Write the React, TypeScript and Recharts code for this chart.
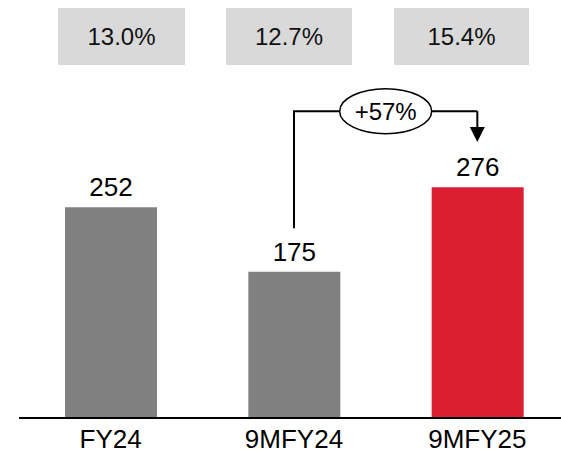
import React from 'react';
import { BarChart, Bar, XAxis, YAxis, Cell, LabelList, ReferenceLine } from 'recharts';

const categories = ['FY24', '9MFY24', '9MFY25'];
const values = [252, 175, 276];
const marginPcts = ['13.0%', '12.7%', '15.4%'];
const growthLabel = '+57%';
const barColors = ['#808080', '#808080', '#DA1F33'];

// annotation heights, in data units
const arrowStart = 227;
const arrowTop = 367;
const arrowTip = 330;

const data = categories.map((c, i) => ({ name: c, value: values[i] }));

const FONT = '"Liberation Sans", Arial, sans-serif';

const BOXES = [
  { left: 58, width: 127 },
  { left: 226, width: 126 },
  { left: 394, width: 135 },
];

const ElbowShape = (props: any) => {
  const { x1, y1, x2, y2 } = props;
  const mx = (x1 + x2) / 2;
  return (
    <g>
      <path d={`M${x1},${y1} V${y2} H${x2}`} fill="none" stroke="#000" strokeWidth={2} />
      <ellipse cx={mx} cy={y2} rx={46} ry={22.5} fill="#fff" stroke="#000" strokeWidth={1.5} />
      <text x={mx} y={y2} dy={8.5} textAnchor="middle" fontSize={24} fontFamily={FONT} fill="#000">
        {growthLabel}
      </text>
    </g>
  );
};

const ArrowShape = (props: any) => {
  const { x1, y1, y2 } = props;
  const h = 15;
  return (
    <g>
      <line x1={x1} y1={y1} x2={x1} y2={y2 - h + 1} stroke="#000" strokeWidth={2} />
      <path d={`M${x1 - 7.5},${y2 - h} L${x1 + 7.5},${y2 - h} L${x1},${y2} Z`} fill="#000" />
    </g>
  );
};

const Tick = (props: any) => {
  const { x, y, payload } = props;
  return (
    <text x={x} y={y} dy={22} textAnchor="middle" fontSize={26} fontFamily={FONT} fill="#000">
      {payload.value}
    </text>
  );
};

export default function App() {
  return (
    <div style={{ position: 'absolute', left: 0, top: 0, width: 561, height: 453, overflow: 'hidden', background: '#fff', fontFamily: FONT }}>
      <BarChart
        width={570}
        height={453}
        data={data}
        margin={{ top: 0, right: 1, bottom: 0, left: 19 }}
        style={{ fontFamily: FONT }}
      >
        <XAxis
          dataKey="name"
          height={35}
          tickLine={false}
          tickSize={6}
          axisLine={{ stroke: '#000', strokeWidth: 2 }}
          tick={<Tick />}
          interval={0}
        />
        <YAxis hide domain={[0, 500]} />
        <Bar dataKey="value" barSize={92} isAnimationActive={false}>
          {data.map((d, i) => (
            <Cell key={d.name} fill={barColors[i]} />
          ))}
          <LabelList dataKey="value" position="top" offset={11} fontSize={26} fill="#000" fontFamily={FONT} />
        </Bar>
        <ReferenceLine
          segment={[{ x: categories[1], y: arrowStart }, { x: categories[2], y: arrowTop }]}
          shape={<ElbowShape />}
        />
        <ReferenceLine
          segment={[{ x: categories[2], y: arrowTop }, { x: categories[2], y: arrowTip }]}
          shape={<ArrowShape />}
        />
      </BarChart>
      {BOXES.map((b, i) => (
        <div
          key={i}
          style={{
            position: 'absolute',
            left: b.left,
            top: 8,
            width: b.width,
            height: 57,
            background: '#D9D9D9',
            display: 'flex',
            alignItems: 'center',
            justifyContent: 'center',
            fontSize: 24,
            color: '#111',
            fontFamily: FONT,
          }}
        >
          {marginPcts[i]}
        </div>
      ))}
    </div>
  );
}
